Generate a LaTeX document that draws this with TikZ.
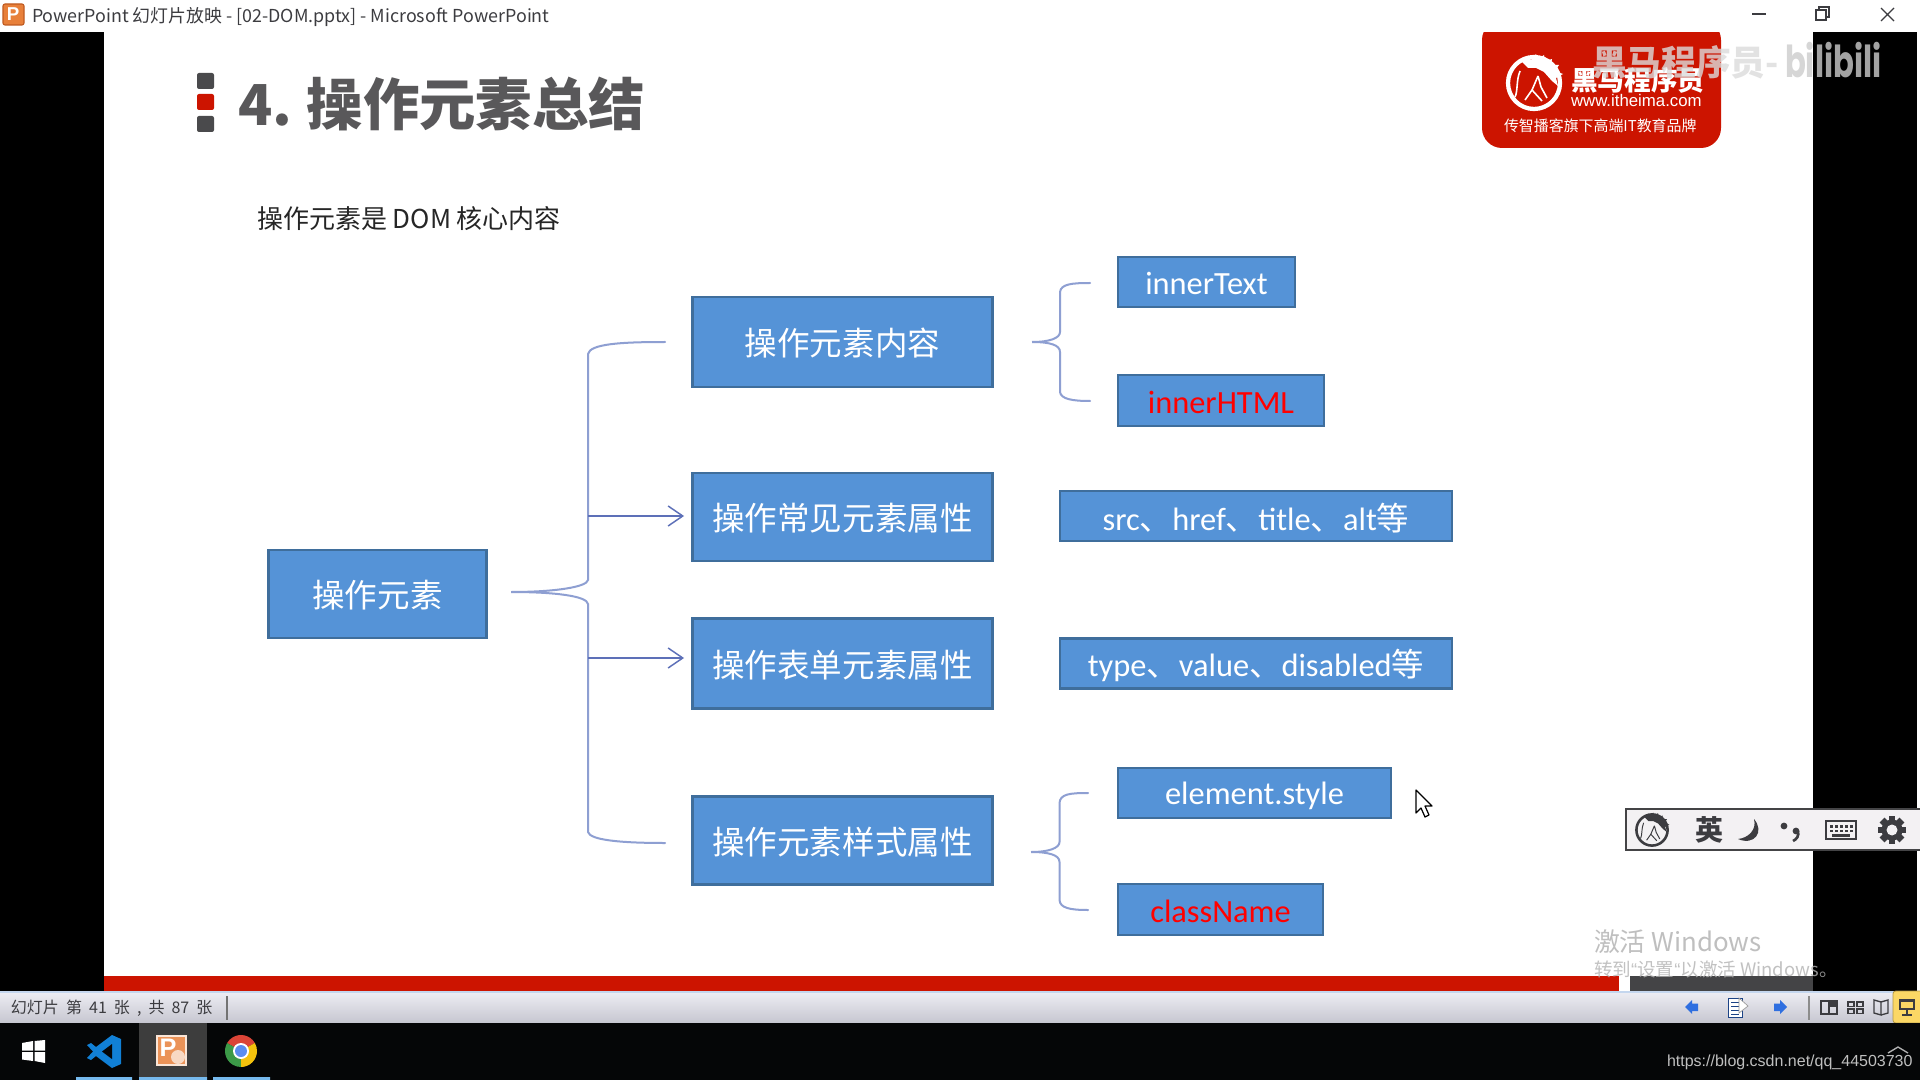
\documentclass[tikz,border=0pt]{standalone}
\usepackage{fontspec}
\setmainfont{Carlito}
\newfontfamily\cjk{Noto Sans CJK SC}
\newfontfamily\arialf{Liberation Sans}
\newfontfamily\popf{Poppins}
\usetikzlibrary{arrows.meta}
\definecolor{boxfill}{HTML}{5593D7}
\definecolor{boxline}{HTML}{3F6E9C}
\definecolor{bracec}{HTML}{8E9FD2}
\definecolor{arrowc}{HTML}{5D70B8}
\definecolor{brandred}{HTML}{CC1400}
\definecolor{titlegray}{HTML}{59585A}
\definecolor{markgray}{HTML}{4A4A4C}
\definecolor{pporange}{HTML}{E8803A}
\definecolor{ppdark}{HTML}{C05A20}
\definecolor{barfoot}{HTML}{C6C6D0}
\definecolor{bartop}{HTML}{EDEDF3}
\definecolor{barblue}{HTML}{C4D6EE}
\definecolor{darkbar}{HTML}{444446}
\definecolor{icongray}{HTML}{3C3C40}
\definecolor{imebg}{HTML}{F3F1F3}
\definecolor{vsblue}{HTML}{1180D6}
\definecolor{tasksel}{HTML}{3D3D3D}
\definecolor{taskline}{HTML}{76B9ED}
\definecolor{navblue}{HTML}{2F6FE0}
\definecolor{viewyellow}{HTML}{FBD765}
\definecolor{chromeg}{HTML}{3C9A48}
\definecolor{chromer}{HTML}{DB4437}
\definecolor{chromey}{HTML}{F4C20D}
\definecolor{chromeb}{HTML}{5B8DEF}
\definecolor{taskblack}{HTML}{050607}
\newcommand\fsz[1]{\fontsize{#1}{#1}\selectfont}
\newcommand\lwr[1]{\raisebox{-1pt}[\height][\depth]{#1}}
\newcommand\lat[1]{\raisebox{-1.2pt}[\height][\depth]{#1}}
\newcommand\horsemark[4]{%
\begin{scope}[shift={(#1,#2)},scale=#3]
\draw[#4,line width=#3*3.2pt] (0,0) circle (26);
\fill[#4] (-12,-21) -- (-6,-27) -- (-3,-23) -- (2,-29) -- (4,-24) -- (10,-28) -- (11,-22) -- (18,-24) -- (17,-18) -- (25,-18) -- (21,-12) -- (29,-9) -- (22,-5) -- (24,3) -- (18,-2) -- (10,-11) -- (2,-15) -- (-6,-15) -- cycle;
\draw[#4,line width=#3*1.2pt] (-14,-12) .. controls (-18,-2) and (-16,8) .. (-19,14);
\draw[#4,line width=#3*1.2pt] (-9,17) -- (-2,7) -- (4,-7) (-2,7) -- (8,18) (4,-7) -- (7,4) -- (13,15);
\end{scope}}
\tikzset{
 px/.style={x=0.75pt,y=-0.75pt},
 wh/.style 2 args={minimum width=#1*0.75pt-1pt,minimum height=#2*0.75pt-1pt},
 flowbox/.style={draw=boxline,fill=boxfill,line width=1.9pt,inner sep=0pt,text=white,font=\fsz{24.4}},
 smallbox/.style={flowbox,font=\fsz{24.3}},
 bracepath/.style={draw=bracec,line width=1.5pt,line cap=round},
 arrowline/.style={draw=arrowc,line width=1.3pt,shorten >=5.5pt,-{Straight Barb[length=11pt,width=15pt,line width=1.1pt]}},
 plain/.style={inner sep=0pt,outer sep=0pt},
 redtext/.style={text=red},
 wmark/.style={plain,opacity=0.8},
}
\begin{document}
\begin{tikzpicture}[px]
\useasboundingbox (0,0) rectangle (1920,1080);
% window ground
\fill[white] (0,0) rectangle (1920,1080);
\fill[black] (0,32) rectangle (104,992);
\fill[black] (1813,32) rectangle (1917,992);
% title bar
\filldraw[fill=pporange,draw=ppdark,line width=0.8pt,rounded corners=1.5pt] (3,4) rectangle (24,25);
\node[plain,text=white,font=\arialf\bfseries\fsz{14}] (ppt) at (13,14.5) {P};
\node[plain,anchor=west,text=icongray,font=\cjk\fsz{13.4}] (wintitle) at (32,17) {PowerPoint 幻灯片放映 - [02-DOM.pptx] - Microsoft PowerPoint};
\draw[icongray,line width=1pt] (1752,14) -- (1766,14);
\draw[icongray,line width=1pt] (1816,10) rectangle (1826,20) (1819,10) -- (1819,7) -- (1829,7) -- (1829,17) -- (1826,17);
\draw[icongray,line width=1pt] (1881,8) -- (1894,21) (1894,8) -- (1881,21);
% slide title
\fill[markgray,rounded corners=1.5pt] (197,73) rectangle (214,89);
\fill[brandred,rounded corners=1.5pt] (197,94) rectangle (214,110);
\fill[markgray,rounded corners=1.5pt] (197,116) rectangle (214,132);
\node[plain,anchor=west,text=titlegray,font=\cjk\bfseries\fsz{42.3}] (title) at (238,104) {4.\hspace{-2pt} 操作元素总结};
\node[plain,anchor=west,text=black!85,font=\cjk\fsz{19.5}] (subtitle) at (257,219) {操作元素是 DOM 核心内容};
% logo
\fill[brandred,rounded corners=15pt] (1482,20) -- (1721,20) -- (1721,148) -- (1482,148) -- cycle;
\fill[white] (1470,0) rectangle (1735,32);
\horsemark{1534}{83}{1}{white}
\node[plain,anchor=west,text=white,font=\cjk\bfseries\fsz{20}] (brand) at (1571,80) {黑马程序员};
\node[plain,anchor=west,text=white,font=\arialf\fsz{12.6}] (url) at (1571,100) {www.itheima.com};
\node[plain,anchor=west,text=white,font=\cjk\fsz{11.2}] (slogan) at (1504,126) {传智播客旗下高端IT教育品牌};
% watermark
\node[wmark,anchor=west,text=black!14,font=\cjk\bfseries\fsz{26}] (wm) at (1592,62) {黑马程序员-};
\node[wmark,anchor=west,text=black!20,font=\popf\bfseries\fsz{33}] (bili) at (1785,60) {\scalebox{0.7}[1]{bilibili}};
% flow nodes
\node[flowbox,wh={219}{89}] (root) at (377.5,594) {\lwr{\cjk 操作元素}};
\node[flowbox,wh={301}{91}] (content) at (842.5,342) {\lwr{\cjk 操作元素内容}};
\node[flowbox,wh={301}{89}] (common) at (842.5,517) {\lwr{\cjk 操作常见元素属性}};
\node[flowbox,wh={301}{91}] (form) at (842.5,663.5) {\lwr{\cjk 操作表单元素属性}};
\node[flowbox,wh={301}{89}] (style) at (842.5,840.5) {\lwr{\cjk 操作元素样式属性}};
\node[smallbox,wh={178}{51}] (itext) at (1206.5,282) {\lat{innerText}};
\node[smallbox,wh={207}{52},redtext] (ihtml) at (1221,400.5) {\lat{innerHTML}};
\node[smallbox,wh={393}{51}] (srcn) at (1256,516) {\lat{src{\cjk 、}href{\cjk 、}title{\cjk 、}alt{\cjk 等}}};
\node[smallbox,wh={393}{51}] (typen) at (1256,663.5) {\lat{type{\cjk 、}value{\cjk 、}disabled{\cjk 等}}};
\node[smallbox,wh={274}{51}] (estyle) at (1254.5,793) {\raisebox{-1.9pt}[\height][\depth]{element.style}};
\node[smallbox,wh={206}{52},redtext] (cname) at (1220.5,909.5) {\raisebox{-1.6pt}[\height][\depth]{className}};
% connectors
\coordinate (tipA) at (511,592);
\coordinate (spA) at (588,516);
\coordinate (spB) at (588,658);
\draw[bracepath] (665,342) .. controls (620,342) and (590,344) .. (588,354) -- (588,580)
  .. controls (587,587) and (555,592) .. (tipA)
  .. controls (555,592) and (587,596) .. (588,604) -- (588,832)
  .. controls (590,840) and (620,843) .. (665,843);
\draw[arrowline] (spA) -- (spA -| common.west);
\draw[arrowline] (spB) -- (spB -| form.west);
\coordinate (tipB) at (1032,342);
\draw[bracepath] (1090,283) .. controls (1072,283) and (1061,284) .. (1060,292) -- (1060,332)
  .. controls (1060,338) and (1050,342) .. (tipB)
  .. controls (1050,342) and (1060,345) .. (1060,352) -- (1060,392)
  .. controls (1061,399) and (1072,401) .. (1090,401);
\coordinate (tipC) at (1031,852);
\draw[bracepath] (1088,793) .. controls (1070,793) and (1060,794) .. (1059.5,803) -- (1059.5,842)
  .. controls (1059.5,848) and (1049,852) .. (tipC)
  .. controls (1049,852) and (1059.5,855) .. (1059.5,862) -- (1059.5,900)
  .. controls (1060,908) and (1070,910) .. (1088,910);
% cursor
\filldraw[fill=white,draw=black,line width=0.9pt,line join=round] (1416,790) -- (1416,813) -- (1421,808) -- (1425,817) -- (1429,815) -- (1425,806) -- (1432,806) -- cycle;
% IME bar
\filldraw[fill=imebg,draw=darkbar,line width=1.6pt] (1626,809) rectangle (1925,850);
\horsemark{1652}{830}{0.6}{icongray}
\node[plain,text=icongray,font=\cjk\bfseries\fsz{21}] (imeen) at (1709,830) {英};
\fill[icongray] (1754,819) .. controls (1765,832) and (1754,846) .. (1738,839) .. controls (1748,838) and (1757,830) .. (1754,819) -- cycle;
\fill[icongray] (1784,826) circle (3.4);
\fill[icongray] (1796,831) circle (3.4);
\draw[icongray,line width=2pt] (1798,831) .. controls (1799,836) and (1797,839) .. (1793,841);
\draw[icongray,line width=2.2pt] (1826,821) rectangle (1856,839);
\foreach \kx in {1830,1835,1840,1845,1850}{\fill[icongray] (\kx,825) rectangle (\kx+3,828); \fill[icongray] (\kx,830) rectangle (\kx+3,832);}
\fill[icongray] (1832,834) rectangle (1850,836.5);
\begin{scope}[shift={(1892,830)}]
\foreach \ga in {0,45,90,135}{\fill[icongray,rotate=\ga] (-3.4,-14) rectangle (3.4,14);}
\fill[icongray] (0,0) circle (10.5);
\fill[imebg] (0,0) circle (5.5);
\end{scope}
% bottom bars
\fill[brandred] (104,976) rectangle (1619,992);
\fill[darkbar] (1630,976) rectangle (1813,992);
% activation text
\node[plain,anchor=west,text=black!25,font=\cjk\fsz{19.4}] (act) at (1594,942) {激活 Windows};
\node[plain,anchor=west,text=black!30,opacity=0.8,font=\cjk\fsz{13.9}] (act2) at (1594,969) {转到{\arialf “}设置{\arialf “}以激活 Windows。};
% status bar
\shade[top color=bartop,bottom color=barfoot] (0,992) rectangle (1920,1023);
\draw[barblue,line width=0.8pt] (0,992) -- (1920,992);
\node[plain,anchor=west,text=icongray,font=\cjk\fsz{12}] (slidecount) at (11,1008) {\spaceskip=5.3pt 幻灯片 第 41 张 , 共 87 张};
\draw[black!55,line width=0.8pt] (227,996) -- (227,1020);
\draw[black!45,line width=0.8pt] (1809,996) -- (1809,1020);
\fill[navblue] (1685,1007) -- (1692,1000) -- (1692,1003.5) -- (1698,1003.5) -- (1698,1011) -- (1692,1011) -- (1692,1014) -- cycle;
\fill[navblue] (1787,1007) -- (1780,1000) -- (1780,1003.5) -- (1774,1003.5) -- (1774,1011) -- (1780,1011) -- (1780,1014) -- cycle;
\filldraw[fill=white,draw=navblue!60!black,line width=0.6pt] (1728,998) rectangle (1742,1017);
\foreach \ly in {1002,1006,1010,1014}{\draw[navblue!60!black,line width=0.5pt] (1731,\ly) -- (1739,\ly);}
\filldraw[fill=white,draw=black!40,line width=0.5pt] (1739,998) -- (1748,1006) -- (1739,1013) -- cycle;
\draw[icongray,line width=1.1pt] (1821,1001) rectangle (1837,1014) (1829,1001) -- (1829,1014);
\fill[icongray] (1829,1001) rectangle (1837,1007);
\foreach \qx/\qy in {1848/1002,1857/1002,1848/1009,1857/1009}{\draw[icongray,line width=1.1pt] (\qx,\qy) rectangle (\qx+6,\qy+4.5);}
\draw[icongray,line width=1pt] (1881,1002) -- (1881,1015) -- (1874,1013) -- (1874,1000) -- cycle (1881,1002) -- (1888,1000) -- (1888,1013) -- (1881,1015);
\filldraw[fill=viewyellow,draw=viewyellow!70!black,line width=0.6pt,rounded corners=2pt] (1893,991) rectangle (1925,1023);
\draw[icongray,line width=1.1pt] (1900,1001) rectangle (1914,1009) (1907,1009) -- (1907,1015) (1902,1015) -- (1912,1015);
\draw[icongray,line width=1.4pt] (1899,1000) -- (1915,1000);
% taskbar
\fill[taskblack] (0,1023) rectangle (1920,1080);
\fill[tasksel] (139,1023) rectangle (207,1080);
\fill[taskline] (76,1077) rectangle (132,1080) (139,1077) rectangle (207,1080) (213,1077) rectangle (270,1080);
\fill[white] (22,1043) -- (33,1041) -- (33,1050.5) -- (22,1050.5) -- cycle (34.5,1041) -- (45,1040) -- (45,1050.5) -- (34.5,1050.5) -- cycle (22,1052) -- (33,1052) -- (33,1061) -- (22,1059.5) -- cycle (34.5,1052) -- (45,1052) -- (45,1063) -- (34.5,1061) -- cycle;
\fill[vsblue] (112,1035) -- (121,1039) -- (121,1064) -- (112,1068) -- (96,1056) -- (91,1060) -- (87,1058) -- (93,1051.5) -- (87,1045) -- (91,1043) -- (96,1047) -- cycle;
\fill[taskblack] (112,1044) -- (112,1059) -- (102,1051.5) -- cycle;
\filldraw[fill=pporange!85!white,draw=white!80!pporange,line width=0.8pt] (157,1036) rectangle (186,1065);
\node[plain,text=white,font=\arialf\bfseries\fsz{19}] (pptask) at (168,1048) {P};
\fill[white!70!pporange] (178,1057) circle (7);
\begin{scope}[shift={(241,1051)},y=0.75pt]
\fill[chromer] (0,0) -- (30:16) arc (30:150:16) -- cycle;
\fill[chromeg] (0,0) -- (150:16) arc (150:270:16) -- cycle;
\fill[chromey] (0,0) -- (270:16) arc (270:390:16) -- cycle;
\fill[white] (0,0) circle (8);
\fill[chromeb] (0,0) circle (6);
\end{scope}
\draw[white!70!black,line width=1pt] (1888,1053) -- (1898,1047) -- (1908,1053);
\node[plain,anchor=west,text=black!25,font=\arialf\fsz{12}] (csdn) at (1667,1062) {https://blog.csdn.net/qq\_44503730};
\end{tikzpicture}
\end{document}
